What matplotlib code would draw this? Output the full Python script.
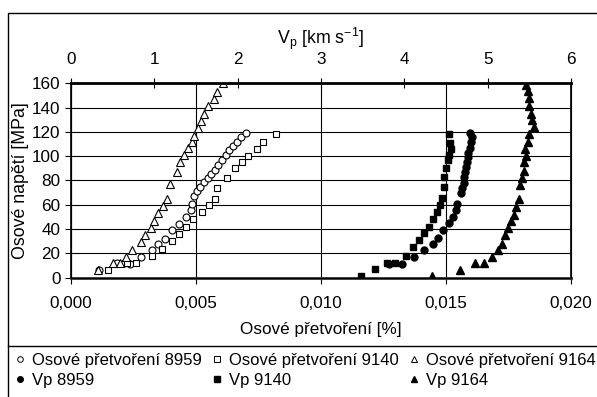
import matplotlib
matplotlib.use("Agg")
import matplotlib.pyplot as plt
from matplotlib.patches import Rectangle
from matplotlib.lines import Line2D

plt.rcParams["font.family"] = ["Liberation Sans", "DejaVu Sans"]
plt.rcParams["mathtext.fontset"] = "custom"
plt.rcParams["mathtext.rm"] = "Liberation Sans"

# --- data: axial strain [%] vs axial stress [MPa] (open markers, bottom axis)
eps_8959 = [0.00112, 0.00183, 0.00213, 0.00236, 0.00279, 0.00325, 0.00349, 0.00376,
            0.00405, 0.00432, 0.00459, 0.00480, 0.00485, 0.00493, 0.00505, 0.00516,
            0.00533, 0.00547, 0.00560, 0.00576, 0.00589, 0.00603, 0.00620, 0.00633,
            0.00647, 0.00663, 0.00680, 0.00699]
sig_8959 = [6, 12, 12, 11, 17, 23, 28, 32, 39, 44, 50, 56, 61, 67, 71, 75,
            79, 82, 85, 89, 93, 97, 101, 105, 108, 112, 116, 119]

eps_9140 = [0.00147, 0.00223, 0.00260, 0.00323, 0.00365, 0.00403, 0.00433, 0.00460,
            0.00489, 0.00523, 0.00553, 0.00576, 0.00585, 0.00623, 0.00656, 0.00683,
            0.00707, 0.00743, 0.00769, 0.00820]
sig_9140 = [6, 12, 12, 18, 24, 30, 36, 42, 48, 54, 60, 65, 74, 82, 90, 95,
            100, 106, 112, 118]

eps_9164 = [0.00109, 0.00167, 0.00196, 0.00220, 0.00244, 0.00280, 0.00296, 0.00320,
            0.00333, 0.00349, 0.00369, 0.00383, 0.00396, 0.00423, 0.00436, 0.00453,
            0.00467, 0.00483, 0.00493, 0.00507, 0.00520, 0.00533, 0.00547, 0.00570,
            0.00583, 0.00607]
sig_9164 = [6, 12, 12, 17, 23, 29, 35, 41, 47, 53, 59, 65, 77, 87, 95, 101,
            107, 112, 117, 123, 129, 135, 141, 147, 153, 160]

# --- data: P-wave velocity [km/s] vs axial stress [MPa] (filled markers, top axis)
vp_8959 = [3.82, 3.97, 4.11, 4.23, 4.34, 4.40, 4.47, 4.53, 4.59, 4.62, 4.63, 4.68,
           4.69, 4.71, 4.72, 4.73, 4.74, 4.75, 4.76, 4.77, 4.79, 4.80, 4.81, 4.79]
sig_vp_8959 = [11, 11, 17, 23, 28, 33, 39, 45, 50, 56, 61, 70, 74, 78, 83, 87,
               91, 95, 99, 103, 107, 112, 116, 119]

vp_9140 = [3.48, 3.65, 3.79, 3.89, 4.02, 4.10, 4.17, 4.24, 4.30, 4.35, 4.39, 4.43,
           4.45, 4.48, 4.48, 4.50, 4.52, 4.54, 4.56, 4.55, 4.54]
sig_vp_9140 = [1, 7, 12, 12, 18, 25, 31, 37, 42, 48, 54, 60, 66, 75, 83, 90,
               97, 101, 106, 111, 118]

vp_9164 = [4.33, 4.67, 4.85, 4.95, 5.05, 5.13, 5.17, 5.21, 5.24, 5.28, 5.32, 5.34,
           5.37, 5.39, 5.41, 5.43, 5.44, 5.46, 5.45, 5.48, 5.50, 5.55, 5.53, 5.52,
           5.50, 5.49, 5.48, 5.46]
sig_vp_9164 = [1, 6, 12, 12, 17, 23, 28, 35, 41, 47, 52, 58, 65, 76, 82, 88,
               95, 100, 106, 112, 118, 124, 130, 135, 141, 148, 154, 159]

labels = ["Osové přetvoření 8959", "Vp 8959", "Osové přetvoření 9140", "Vp 9140",
          "Osové přetvoření 9164", "Vp 9164"]

fs = 12.3

fig = plt.figure(figsize=(5.97, 3.97), dpi=100)
ax = fig.add_axes([71 / 597, 1 - 277.7 / 397, 500 / 597, 194.4 / 397])

ax.plot(eps_8959, sig_8959, "o", mfc="white", mec="black", ms=5, mew=0.8, zorder=3)
ax.plot(eps_9140, sig_9140, "s", mfc="white", mec="black", ms=5, mew=0.8, zorder=3)
ax.plot(eps_9164, sig_9164, "^", mfc="white", mec="black", ms=6, mew=0.8, zorder=3)

ax.set_xlim(0, 0.020)
ax.set_ylim(0, 160)
ax.set_xticks([0, 0.005, 0.010, 0.015, 0.020])
ax.set_xticklabels(["0,000", "0,005", "0,010", "0,015", "0,020"])
ax.set_yticks(range(0, 161, 20))
ax.grid(True, color="black", lw=0.8)
ax.set_axisbelow(True)
ax.tick_params(labelsize=fs, length=4, direction="out", width=0.8)
ax.tick_params(axis="x", pad=9)
ax.set_xlabel("Osové přetvoření [%]", fontsize=fs, labelpad=8)
ax.set_ylabel("Osové napětí [MPa]", fontsize=fs + 0.5, labelpad=2)
for s in ["left", "right"]:
    ax.spines[s].set_linewidth(1.2)
ax.spines["bottom"].set_linewidth(2)
ax.spines["bottom"].set_color("#333333")

ax2 = ax.twiny()
ax2.plot(vp_8959, sig_vp_8959, "o", color="black", ms=5, zorder=3)
ax2.plot(vp_9140, sig_vp_9140, "s", color="black", ms=5, zorder=3)
ax2.plot(vp_9164, sig_vp_9164, "^", color="black", ms=6, zorder=3)
ax2.set_xlim(0, 6)
ax2.set_xticks(range(0, 7))
ax2.tick_params(labelsize=fs, length=7, direction="inout", width=0.8, pad=8)
ax2.set_xlabel(r"V$_\mathregular{p}$ [km s$^\mathregular{-1}$]", fontsize=fs + 0.5, labelpad=6)
ax2.spines["top"].set_linewidth(2)

# outer frame and legend separator
fig.patches.append(Rectangle((8 / 597, -0.01), 1, 1 - 13 / 397 + 0.01,
                             transform=fig.transFigure, fill=False, ec="black", lw=1))
fig.lines.append(Line2D([8 / 597, 1], [1 - 346 / 397] * 2, transform=fig.transFigure,
                        color="black", lw=1))

handles = [
    Line2D([], [], ls="", marker="o", mfc="white", mec="black", ms=4, mew=0.7),
    Line2D([], [], ls="", marker="o", color="black", ms=4),
    Line2D([], [], ls="", marker="s", mfc="white", mec="black", ms=4, mew=0.7),
    Line2D([], [], ls="", marker="s", color="black", ms=4),
    Line2D([], [], ls="", marker="^", mfc="white", mec="black", ms=4.5, mew=0.7),
    Line2D([], [], ls="", marker="^", color="black", ms=4.5),
]
fig.legend(handles, labels, ncol=3, loc="upper left", bbox_to_anchor=(16.5 / 597, 1 - 353 / 397),
           frameon=False, fontsize=12, handlelength=0.4, handletextpad=0.52,
           columnspacing=0.72, labelspacing=0.3, borderpad=0, borderaxespad=0)

fig.savefig("out.png", dpi=100)
